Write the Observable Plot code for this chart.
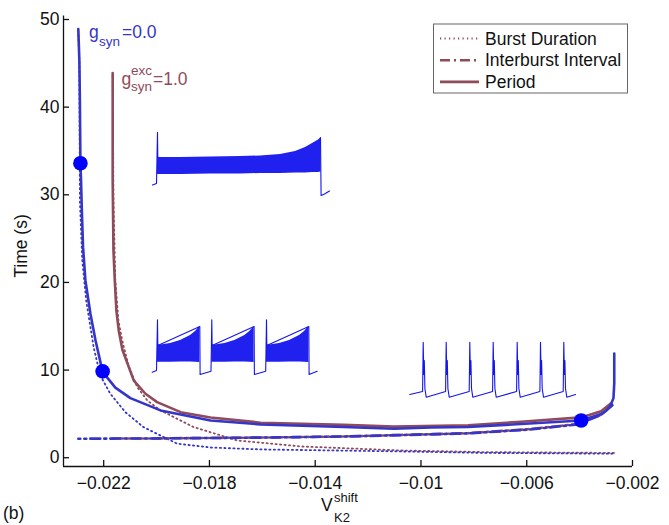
<!DOCTYPE html>
<html><head><meta charset="utf-8">
<script src="https://cdn.jsdelivr.net/npm/d3@7"></script>
<script src="https://cdn.jsdelivr.net/npm/@observablehq/plot@0.6"></script>
<style>
body{margin:0;background:#fff;}
#wrap{position:relative;width:669px;height:525px;font-family:"Liberation Sans",Arial,Helvetica,sans-serif;}
#wrap svg{position:absolute;overflow:visible;background:transparent;}
</style></head><body><div id="wrap"></div>
<script>
// ---------- axes ----------
const xTicks = [-0.022, -0.018, -0.014, -0.01, -0.006, -0.002];
const yTicks = [0, 10, 20, 30, 40, 50];
const xDomain = [-0.02352, -0.002];
const yDomain = [-1, 50.4];

// ---------- g_syn = 0.0 (blue) ----------
const periodG0X = [-0.02296, -0.02292, -0.02290, -0.02288, -0.022856, -0.022826, -0.02278, -0.02269, -0.02250, -0.02231, -0.02204, -0.02156, -0.02099, -0.01985, -0.01796, -0.01606, -0.01292, -0.01103, -0.00962, -0.00822, -0.00622, -0.00394, -0.00319, -0.00300, -0.00284, -0.00272, -0.00269, -0.00269];
const periodG0Y = [48.9, 45.3, 40.7, 33.6, 31.6, 28.2, 24.0, 20.2, 16.4, 13.4, 9.8, 8.0, 6.8, 5.4, 4.25, 3.8, 3.5, 3.3, 3.45, 3.5, 3.85, 4.25, 5.0, 5.35, 5.9, 6.8, 8.5, 11.9];
const ibiG0X = [-0.02296, -0.02023, -0.01796, -0.01606, -0.01292, -0.01076, -0.00822, -0.00750, -0.00597, -0.00405, -0.00319, -0.00276];
const ibiG0Y = [2.17, 2.2, 2.25, 2.3, 2.42, 2.58, 2.78, 2.92, 3.2, 3.8, 4.9, 6.0];
const burstG0X = [-0.02296, -0.02292, -0.02290, -0.02281, -0.02266, -0.02238, -0.02213, -0.02175, -0.02118, -0.0205, -0.01922, -0.01796, -0.01606, -0.01076, -0.0075, -0.00269];
const burstG0Y = [48.5, 45.3, 29.3, 22.5, 17.9, 12.6, 9.4, 7.3, 5.2, 3.5, 1.6, 1.17, 0.95, 0.72, 0.55, 0.46];
const markedX = [-0.02288, -0.02204, -0.00394];
const markedY = [33.6, 9.85, 4.25];

// ---------- g_syn^exc = 1.0 (maroon) ----------
const periodG1X = [-0.02166, -0.02166, -0.02163, -0.02158, -0.02152, -0.02143, -0.02129, -0.02086, -0.02042, -0.01998, -0.01909, -0.01796, -0.01606, -0.01292, -0.01103, -0.00822, -0.00622, -0.00394, -0.00319, -0.00281];
const periodG1Y = [43.9, 31.6, 23.6, 20.2, 16.8, 14.5, 12.3, 8.8, 7.3, 6.35, 5.2, 4.6, 4.0, 3.75, 3.55, 3.7, 4.1, 4.6, 5.3, 6.2];
const ibiG1X = [-0.02167, -0.02023, -0.01796, -0.01606, -0.01292, -0.01076, -0.00822, -0.00750, -0.00597, -0.00405, -0.00319, -0.00281];
const ibiG1Y = [2.2, 2.2, 2.26, 2.3, 2.43, 2.6, 2.8, 2.95, 3.25, 3.85, 4.9, 5.9];
const burstG1X = [-0.02166, -0.02163, -0.02156, -0.02144, -0.0213, -0.02106, -0.02073, -0.02034, -0.01985, -0.0186, -0.01695, -0.01455, -0.01076, -0.0075, -0.00269];
const burstG1Y = [43.5, 29.3, 20.2, 15.6, 13.4, 10.5, 8.05, 6.5, 5.4, 3.5, 1.97, 1.29, 0.83, 0.64, 0.55];

// ---------- legend / labels ----------
const legendLabels = ["Burst Duration", "Interburst Interval", "Period"];

// ---------- inset traces (local time units, voltage units) ----------
// inset 1: one long burst
const in1PreT = [2, 6, 7, 7.3], in1PreV = [13.5, 15, 66.3, 41];
const in1PostT = [170, 170.6, 174, 179], in1PostV = [61, 3, 4.5, 7.5];
const in1BandT = [7, 30, 60, 90, 110, 130, 145, 155, 162, 168, 170.5];
const in1BandHi = [41, 41, 41.5, 42, 42.5, 44, 47, 51, 55, 58.5, 61];
const in1BandLo = [24, 24, 24.5, 24.5, 25, 25, 25.5, 25.5, 26, 26, 26.5];
// inset 2: three bursts
const in2Starts = [7, 61.3, 116];
const in2Offs = [0, 13, 23, 33, 38, 42.3];
const in2Hi = [33, 35, 38, 43, 47, 52];
const in2Lo = [16.3, 16.3, 16.5, 16.5, 16.3, 16];
const in2SpikeV = 58.7, in2DropV = 4, in2RestV = 7.3, in2LeadT = [1.7, 6], in2LeadV = [6.3, 8], in2EndT = 166.7;
// inset 3: tonic spiking
const in3Spikes = [17.7, 40.7, 64.3, 87.7, 111.7, 135, 158.3];
const in3ShapeOffs = [-0.6, 0, 0.6, 1.1, 1.7, 3];
const in3ShapeV = [9, 58.3, 26, 40, 12, 3.3];
const in3StartT = 4.3, in3StartV = 6, in3EndT = 170, in3EndV = 6;

// ---------- styling ----------
const BLUE = "#3535c8", RED = "#904b5b", DOT = "#0000ff", TRACE = "#1414ee";
const FONT = '"Liberation Sans", Arial, Helvetica, sans-serif';

const rows = (xs, ys) => xs.map((x, i) => ({x, y: ys[i]}));
const fmt = d => (d < 0 ? "\u2212" : "") + String(Math.abs(d));

const wrap = document.getElementById("wrap");

const main = Plot.plot({
  width: 669, height: 525,
  marginLeft: 63, marginRight: 37, marginTop: 15.5, marginBottom: 59,
  x: {domain: xDomain},
  y: {domain: yDomain},
  style: {fontFamily: FONT, fontSize: "17.5px", color: "#111", background: "transparent", overflow: "visible"},
  marks: [
    Plot.ruleY([yDomain[0]], {stroke: "#111", strokeWidth: 1.3}),
    Plot.ruleX([xDomain[0]], {stroke: "#111", strokeWidth: 1.3}),
    Plot.axisX({ticks: xTicks, tickFormat: fmt, tickSize: -6, tickPadding: 16, label: null, strokeWidth: 1.3}),
    Plot.axisY({ticks: yTicks, tickSize: -6, tickPadding: 10, label: null, strokeWidth: 1.3}),
    Plot.line(rows(burstG1X, burstG1Y), {x: "x", y: "y", stroke: RED, strokeWidth: 1.8, strokeDasharray: "1.2,3.3"}),
    Plot.line(rows(burstG0X, burstG0Y), {x: "x", y: "y", stroke: BLUE, strokeWidth: 1.8, strokeDasharray: "1.2,3.3", strokeDashoffset: 2}),
    Plot.line(rows(ibiG1X, ibiG1Y), {x: "x", y: "y", stroke: RED, strokeWidth: 2.6, strokeDasharray: "10,4,2,4"}),
    Plot.line(rows(ibiG0X, ibiG0Y), {x: "x", y: "y", stroke: BLUE, strokeWidth: 2.6, strokeDasharray: "10,4,2,4", strokeDashoffset: 8}),
    Plot.line(rows(periodG1X, periodG1Y), {x: "x", y: "y", stroke: RED, strokeWidth: 2.6}),
    Plot.line(rows(periodG0X, periodG0Y), {x: "x", y: "y", stroke: BLUE, strokeWidth: 2.6}),
    Plot.dot(rows(markedX, markedY), {x: "x", y: "y", r: 7.3, fill: DOT, stroke: null})
  ]
});
main.style.left = "0px"; main.style.top = "0px";
wrap.appendChild(main);

// annotations & legend as real text
const svg = d3.select(main);
const g = svg.append("g").attr("font-family", FONT).attr("text-anchor", "start");

// y label
g.append("text").attr("transform", "translate(27,246) rotate(-90)").attr("text-anchor", "middle")
  .attr("font-size", 17.5).attr("fill", "#111").text("Time (s)");
// x label V_K2^shift
g.append("text").attr("x", 321).attr("y", 511).attr("font-size", 17.5).attr("fill", "#111").text("V");
g.append("text").attr("x", 334).attr("y", 502).attr("font-size", 13).attr("fill", "#111").text("shift");
g.append("text").attr("x", 334).attr("y", 522).attr("font-size", 13).attr("fill", "#111").text("K2");
// panel tag
g.append("text").attr("x", 3).attr("y", 519).attr("font-size", 17.5).attr("fill", "#111").text("(b)");

// g_syn = 0.0
g.append("text").attr("x", 89).attr("y", 37.5).attr("font-size", 17.5).attr("fill", BLUE).text("g");
g.append("text").attr("x", 99).attr("y", 45.5).attr("font-size", 13.5).attr("fill", BLUE).text("syn");
g.append("text").attr("x", 122).attr("y", 37.5).attr("font-size", 17.5).attr("fill", BLUE).text("=0.0");
// g_syn^exc = 1.0
g.append("text").attr("x", 121.5).attr("y", 84.5).attr("font-size", 17.5).attr("fill", RED).text("g");
g.append("text").attr("x", 131).attr("y", 75).attr("font-size", 13.5).attr("fill", RED).text("exc");
g.append("text").attr("x", 131).attr("y", 91).attr("font-size", 13.5).attr("fill", RED).text("syn");
g.append("text").attr("x", 153).attr("y", 84.5).attr("font-size", 17.5).attr("fill", RED).text("=1.0");

// legend
const lg = g.append("g");
lg.append("rect").attr("x", 433.5).attr("y", 24).attr("width", 194).attr("height", 69)
  .attr("fill", "white").attr("stroke", "#666").attr("stroke-width", 1);
const dashes = ["1.2,3.3", "10,4,2,4", null];
const widths = [1.8, 2.6, 2.6];
legendLabels.forEach((lab, i) => {
  const yy = 38.5 + i * 21.7;
  const l = lg.append("line").attr("x1", 440).attr("x2", 479).attr("y1", yy).attr("y2", yy)
    .attr("stroke", RED).attr("stroke-width", widths[i]);
  if (dashes[i]) l.attr("stroke-dasharray", dashes[i]);
  lg.append("text").attr("x", 485).attr("y", yy + 6).attr("font-size", 17.5).attr("fill", "#111").text(lab);
});

// ---------- insets ----------
function inset(left, top, w, h, xdom, ydom, marks) {
  const p = Plot.plot({
    width: w, height: h, margin: 0,
    x: {domain: xdom, axis: null}, y: {domain: ydom, axis: null},
    style: {background: "transparent", overflow: "visible"},
    marks
  });
  p.style.left = left + "px"; p.style.top = top + "px";
  wrap.appendChild(p);
}

// inset 1
const in1Line = [
  ...in1PreT.map((t, i) => ({t, v: in1PreV[i], s: "a"})),
  ...in1PostT.map((t, i) => ({t, v: in1PostV[i], s: "b"}))
];
const in1Band = in1BandT.map((t, i) => ({t, hi: in1BandHi[i], lo: in1BandLo[i]}));
inset(150, 130, 182, 68, [0, 182], [0, 68], [
  Plot.areaY(in1Band, {x: "t", y1: "lo", y2: "hi", fill: TRACE, fillOpacity: 0.95}),
  Plot.line(in1Line, {x: "t", y: "v", z: "s", stroke: TRACE, strokeWidth: 1.1})
]);

// inset 2
const in2Band = [], in2Line = [];
in2LeadT.forEach((t, i) => in2Line.push({t, v: in2LeadV[i]}));
in2Starts.forEach((s, k) => {
  in2Offs.forEach((o, i) => in2Band.push({t: s + o, hi: in2Hi[i], lo: in2Lo[i], b: k}));
  in2Line.push({t: s, v: in2SpikeV});
  in2Line.push({t: s + 0.3, v: in2Hi[0]});
  in2Line.push({t: s + in2Offs[in2Offs.length - 1], v: in2Hi[in2Hi.length - 1]});
  in2Line.push({t: s + in2Offs[in2Offs.length - 1] + 0.3, v: in2DropV});
  const next = in2Starts[k + 1];
  in2Line.push(next !== undefined ? {t: next - 0.8, v: in2RestV} : {t: in2EndT, v: in2RestV});
});
inset(150, 318, 170, 60, [0, 170], [0, 60], [
  Plot.areaY(in2Band, {x: "t", y1: "lo", y2: "hi", z: "b", fill: TRACE, fillOpacity: 0.95}),
  Plot.line(in2Line, {x: "t", y: "v", stroke: TRACE, strokeWidth: 1.1})
]);

// inset 3
const in3Line = [{t: in3StartT, v: in3StartV}];
in3Spikes.forEach(s => in3ShapeOffs.forEach((o, i) => in3Line.push({t: s + o, v: in3ShapeV[i]})));
in3Line.push({t: in3EndT, v: in3EndV});
inset(405, 338, 175, 62, [0, 175], [0, 62], [
  Plot.line(in3Line, {x: "t", y: "v", stroke: TRACE, strokeWidth: 1.1})
]);
</script>
</body></html>
